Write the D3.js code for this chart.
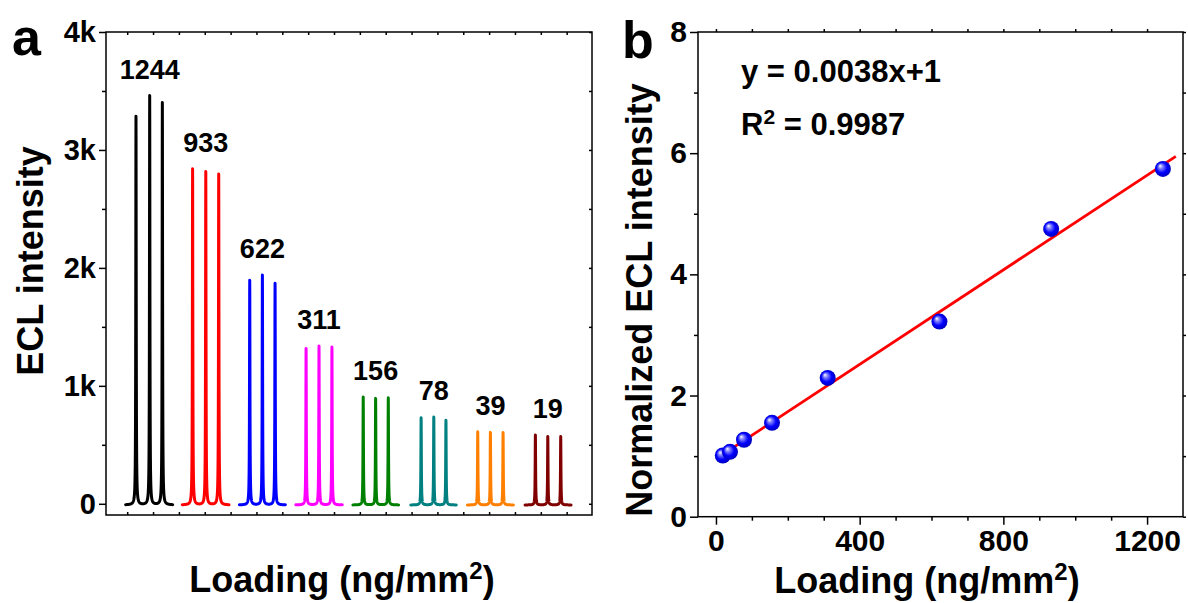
<!DOCTYPE html>
<html>
<head>
<meta charset="utf-8">
<script src="https://cdn.jsdelivr.net/npm/d3@7"></script>
<style>
  body { margin: 0; background: #fff; }
  text { font-family: "Liberation Sans", Arial, sans-serif; font-weight: bold; fill: #000; }
</style>
</head>
<body>
<div id="chart"></div>
<script>
// ---- data ----
// panel a: three ECL peaks for each loading (ng/mm2)
var loadings = [1244, 933, 622, 311, 156, 78, 39, 19];
var groupColors = ["#000000", "#ff0000", "#0000ff", "#ff00ff", "#008000", "#008080", "#ff8000", "#800000"];
var peakTimes = [
  [34, 87, 136], [253, 304, 354], [474, 523, 572], [692, 742, 792],
  [913, 961, 1010], [1137, 1186, 1233], [1356, 1405, 1454], [1579, 1627, 1677]
];
var peakHeights = [
  [3295, 3470, 3410], [2850, 2825, 2805], [1905, 1948, 1878], [1327, 1346, 1338],
  [914, 903, 909], [739, 745, 717], [621, 615, 615], [592, 581, 581]
];
var yTicksA = [0, 1000, 2000, 3000, 4000];

// panel b: normalized intensity vs loading
var loadingX = [19, 39, 78, 156, 311, 622, 933, 1244];
var normalizedY = [1.01, 1.07, 1.27, 1.55, 2.29, 3.22, 4.75, 5.74];
var fitRange = [19, 1280];
var xTicksB = [0, 400, 800, 1200];
var yTicksB = [0, 2, 4, 6, 8];

var W = 1188, H = 603;
var svg = d3.select("#chart").append("svg")
  .attr("width", W).attr("height", H);

var defs = svg.append("defs");
var grad = defs.append("radialGradient").attr("id", "ball")
  .attr("cx", "50%").attr("cy", "50%").attr("r", "55%")
  .attr("fx", "32%").attr("fy", "30%");
grad.append("stop").attr("offset", "0%").attr("stop-color", "#ffffff");
grad.append("stop").attr("offset", "25%").attr("stop-color", "#8080ff");
grad.append("stop").attr("offset", "60%").attr("stop-color", "#0000ff");
grad.append("stop").attr("offset", "100%").attr("stop-color", "#0000b0");

function styleAxis(g) {
  g.select(".domain").remove();
  g.selectAll(".tick line").attr("stroke", "#000").attr("stroke-width", 1.5);
}

// ================= panel a =================
var xA = d3.scaleLinear().domain([-82, 1798]).range([106, 592]);
var yA = d3.scaleLinear().domain([-95, 4000]).range([515, 32]);

// axes
svg.append("g").attr("transform", "translate(106,0)")
  .call(d3.axisLeft(yA).tickValues(yTicksA).tickSize(7).tickPadding(3)
    .tickFormat(function(d) { return d === 0 ? "0" : (d / 1000) + "k"; }))
  .call(styleAxis)
  .selectAll("text").style("font-size", "29px");
svg.append("g").attr("transform", "translate(106,0)")
  .call(d3.axisLeft(yA).tickValues([500, 1500, 2500, 3500]).tickSize(4).tickFormat(""))
  .call(styleAxis);
svg.append("g").attr("transform", "translate(592,0)")
  .call(d3.axisLeft(yA).tickValues(d3.range(0, 4001, 500)).tickSize(3).tickFormat(""))
  .call(styleAxis);
svg.append("g").attr("transform", "translate(0,515)")
  .call(d3.axisTop(xA).tickValues(d3.range(0, 1701, 100)).tickSize(3).tickFormat(""))
  .call(styleAxis);
svg.append("g").attr("transform", "translate(0,32)")
  .call(d3.axisBottom(xA).tickValues(d3.range(0, 1701, 100)).tickSize(3).tickFormat(""))
  .call(styleAxis);
svg.append("rect").attr("x", 106).attr("y", 32).attr("width", 486).attr("height", 483)
  .attr("fill", "none").attr("stroke", "#000").attr("stroke-width", 1.5);

// peak traces
var gamma = 1.0;
var lineA = d3.line().x(function(d) { return xA(d[0]); }).y(function(d) { return yA(d[1]); });
loadings.forEach(function(ld, g) {
  var ts = peakTimes[g], hs = peakHeights[g];
  var pts = [];
  for (var t = ts[0] - 40; t <= ts[2] + 40; t += 0.25) {
    var v = -10;
    for (var k = 0; k < 3; k++) {
      var u = (t - ts[k]) / gamma;
      v += hs[k] / (1 + u * u);
    }
    pts.push([t, v]);
  }
  svg.append("path").datum(pts).attr("d", lineA)
    .attr("fill", "none").attr("stroke", groupColors[g])
    .attr("stroke-width", 3).attr("stroke-linejoin", "round").attr("stroke-linecap", "round");
  svg.append("text").attr("x", xA(ts[1])).attr("y", yA(d3.max(hs)) - 16)
    .attr("text-anchor", "middle").style("font-size", "27px").text(ld);
});

// titles
var tA = svg.append("text").attr("x", 342).attr("y", 592).attr("text-anchor", "middle")
  .style("font-size", "36px");
tA.append("tspan").text("Loading (ng/mm");
tA.append("tspan").attr("dy", -13).style("font-size", "24px").text("2");
tA.append("tspan").attr("dy", 13).text(")");
svg.append("text").attr("transform", "translate(43,261) rotate(-90)")
  .attr("text-anchor", "middle").style("font-size", "36px").text("ECL intensity");
svg.append("text").attr("x", 12).attr("y", 55).style("font-size", "52px").text("a");

// ================= panel b =================
var xB = d3.scaleLinear().domain([-50, 1300]).range([698, 1183]);
var yB = d3.scaleLinear().domain([0, 8]).range([516.7, 32]);

svg.append("g").attr("transform", "translate(0,516.7)")
  .call(d3.axisBottom(xB).tickValues(xTicksB).tickSize(8).tickPadding(5).tickFormat(d3.format("d")))
  .call(styleAxis)
  .selectAll("text").style("font-size", "30px");
svg.append("g").attr("transform", "translate(0,516.7)")
  .call(d3.axisBottom(xB).tickValues([100, 200, 300, 500, 600, 700, 900, 1000, 1100]).tickSize(4).tickFormat(""))
  .call(styleAxis);
svg.append("g").attr("transform", "translate(698,0)")
  .call(d3.axisLeft(yB).tickValues(yTicksB).tickSize(8).tickPadding(3))
  .call(styleAxis)
  .selectAll("text").style("font-size", "30px");
svg.append("g").attr("transform", "translate(698,0)")
  .call(d3.axisLeft(yB).tickValues([1, 3, 5, 7]).tickSize(4).tickFormat(""))
  .call(styleAxis);
svg.append("g").attr("transform", "translate(0,32)")
  .call(d3.axisTop(xB).tickValues(d3.range(0, 1201, 100)).tickSize(3).tickFormat(""))
  .call(styleAxis);
svg.append("g").attr("transform", "translate(1183,0)")
  .call(d3.axisRight(yB).tickValues(d3.range(0, 9, 1)).tickSize(3).tickFormat(""))
  .call(styleAxis);
svg.append("rect").attr("x", 698).attr("y", 32).attr("width", 485).attr("height", 484.7)
  .attr("fill", "none").attr("stroke", "#000").attr("stroke-width", 1.5);

// least squares line from the points
var mx = d3.mean(loadingX), my = d3.mean(normalizedY);
var sxy = d3.sum(loadingX, function(x, i) { return (x - mx) * (normalizedY[i] - my); });
var sxx = d3.sum(loadingX, function(x) { return (x - mx) * (x - mx); });
var slope = sxy / sxx, intercept = my - slope * mx;
svg.append("line")
  .attr("x1", xB(fitRange[0])).attr("y1", yB(slope * fitRange[0] + intercept))
  .attr("x2", xB(fitRange[1])).attr("y2", yB(slope * fitRange[1] + intercept))
  .attr("stroke", "#ff0000").attr("stroke-width", 2.8);

svg.selectAll(".ball").data(loadingX).join("circle").attr("class", "ball")
  .attr("cx", function(d) { return xB(d); })
  .attr("cy", function(d, i) { return yB(normalizedY[i]); })
  .attr("r", 8).attr("fill", "url(#ball)");

svg.append("text").attr("x", 741).attr("y", 82).style("font-size", "31px").text("y = 0.0038x+1");
var r2 = svg.append("text").attr("x", 741).attr("y", 135).style("font-size", "31px");
r2.append("tspan").text("R");
r2.append("tspan").attr("dy", -11).style("font-size", "21px").text("2");
r2.append("tspan").attr("dy", 11).text(" = 0.9987");

var tB = svg.append("text").attr("x", 927).attr("y", 593).attr("text-anchor", "middle")
  .style("font-size", "36px");
tB.append("tspan").text("Loading (ng/mm");
tB.append("tspan").attr("dy", -13).style("font-size", "24px").text("2");
tB.append("tspan").attr("dy", 13).text(")");
svg.append("text").attr("transform", "translate(652,300) rotate(-90)")
  .attr("text-anchor", "middle").style("font-size", "36px").text("Normalized ECL intensity");
svg.append("text").attr("x", 622).attr("y", 58).style("font-size", "52px").text("b");
</script>
</body>
</html>
